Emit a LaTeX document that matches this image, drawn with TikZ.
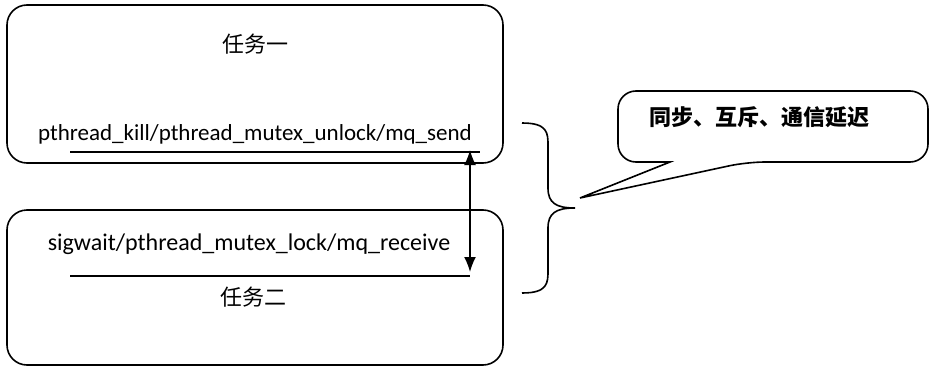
\documentclass[tikz,border=0pt]{standalone}
\usepackage{fontspec}
\setmainfont{Carlito}
\newfontfamily\cjk{Noto Sans CJK SC}
\usepackage{tikz}
\usetikzlibrary{arrows.meta, positioning}

\begin{document}
\begin{tikzpicture}[x=1pt, y=1pt, line width=1.6pt,
  task/.style={rectangle, rounded corners=20pt, draw, minimum width=496pt, inner sep=0pt},
  call/.style={font=\fontsize{23}{26}\selectfont, anchor=base, inner sep=0pt},
  title/.style={font=\cjk\fontsize{22}{26}\selectfont, inner sep=0pt}]

            \useasboundingbox (0,0) rectangle (930,368);

            \node[task, minimum height=158pt] (T1) at (255,284) {};
            \node[task, minimum height=155pt] (T2) at (255,80.5) {};
            \node[title] (n1) at (255,324) {任务一};
            \node[title] (n2) at (253,71) {任务二};
            \node[call] (c1) at (255,228) {pthread\_kill/pthread\_mutex\_unlock/mq\_send};
            \node[call, font=\fontsize{24}{27}\selectfont] (c2) at (249,118) {sigwait/pthread\_mutex\_lock/mq\_receive};

            \coordinate (u1a) at (70,216);
            \coordinate (u1b) at (480,216);
            \coordinate (u2a) at (70,92);
            \coordinate (u2b) at (470,92);
            \coordinate (s1) at (470,218);
            \coordinate (r1) at (470,96);

            \draw[line width=1.2pt] (u1a) -- (u1b);
            \draw[line width=1.2pt] (u2a) -- (u2b);
            \draw[{Latex[length=15pt,width=12pt]}-{Latex[length=15pt,width=12pt]}] (s1) -- (r1);

            % brace over both calls
            \coordinate (b1) at (522,245);
            \coordinate (b2) at (522,75);
            \coordinate (bt) at (575,160);
            \draw (b1) .. controls (548,245) and (548,235) .. (548,222) -- (548,180)
                  .. controls (548,165) and (556,160) .. (bt)
                  .. controls (556,160) and (548,155) .. (548,140) -- (548,98)
                  .. controls (548,85) and (548,75) .. (b2);

            % callout
            \coordinate (tip) at (580,170);
            \draw (670,206) [rounded corners=18pt] -- (618,206) -- (618,277) -- (928,277) -- (928,206) -- (747,206) [sharp corners] -- (tip) -- cycle;
            \node[title, font=\cjk\bfseries\fontsize{22}{26}\selectfont] (d1) at (759,251) {同步、互斥、通信延迟};

        \end{tikzpicture}
\end{document}
